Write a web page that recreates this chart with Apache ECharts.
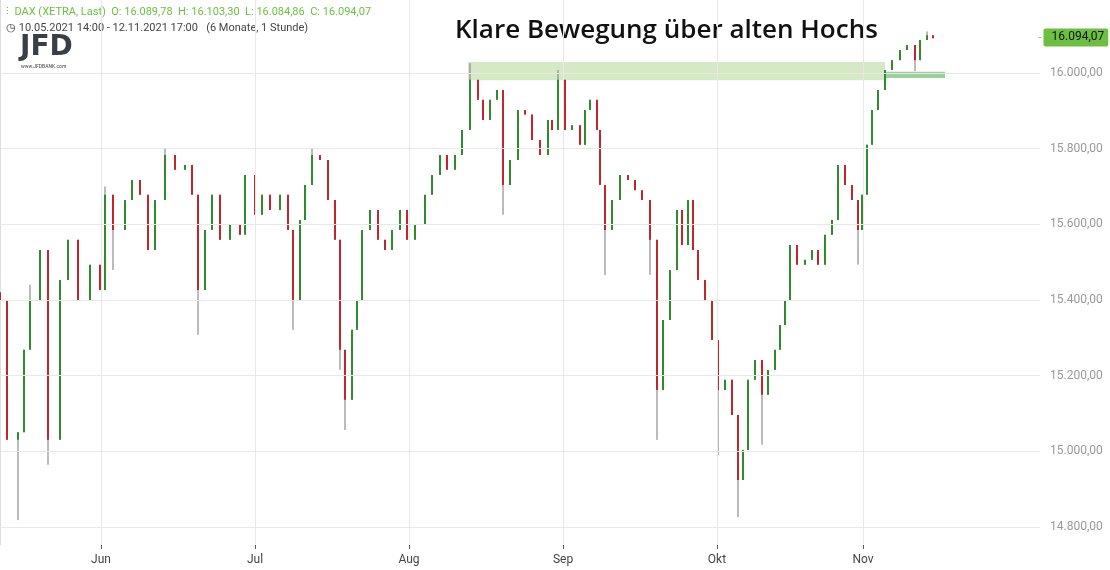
<!DOCTYPE html>
<html><head><meta charset="utf-8">
<script src="https://cdn.jsdelivr.net/npm/echarts@6/dist/echarts.min.js"></script>
<style>html,body{margin:0;padding:0;background:#fff}#c{width:1110px;height:570px}</style>
</head><body><div id="c"></div>
<script>
// time position (trading-hour scale) and closing prices
const timePos = [0,7,18,24,30,40,48,60,68,78,90,100,105,113,125,132,140,148,155,165,175,185,192,198,205,212,220,230,240,245,255,262,270,280,288,293,300,305,312,320,328,335,340,345,352,357,362,370,378,385,392,400,407,415,425,432,440,447,455,462,470,478,483,490,497,503,510,518,525,532,540,548,552,558,565,572,580,585,590,597,600,605,612,620,628,635,642,650,657,663,670,677,682,688,693,698,705,712,718,725,732,738,743,748,755,762,768,775,780,785,790,797,805,812,818,825,832,838,845,852,858,862,867,872,878,885,892,900,907,915,920,927,933];
const closes = [15400,15030,15050,15268,15400,15532,15030,15453,15559,15400,15493,15426,15678,15585,15664,15717,15678,15532,15664,15783,15744,15757,15678,15426,15585,15678,15559,15598,15572,15730,15625,15678,15638,15678,15585,15400,15611,15704,15783,15770,15664,15559,15268,15136,15321,15400,15585,15638,15559,15532,15585,15638,15559,15598,15678,15730,15783,15744,15783,15849,15982,15929,15876,15929,15955,15704,15770,15902,15890,15823,15783,15876,15849,15982,15849,15862,15810,15902,15929,15849,15704,15585,15664,15730,15717,15690,15664,15559,15162,15347,15479,15638,15545,15664,15532,15453,15400,15294,15162,15189,15096,14924,15003,15189,15241,15149,15215,15268,15334,15400,15545,15493,15506,15532,15493,15572,15611,15757,15704,15664,15585,15678,15810,15902,15955,16008,16034,16061,16074,16034,16087,16100,16092];
const firstOpen = 15420;
// wick extremes (index -> value)
const lowOverrides = {2:14818,6:14964,13:15479,23:15308,35:15321,42:15215,43:15056,65:15625,81:15466,87:15466,88:15030,98:14990,101:14826,105:15017,120:15493,129:16005};
const highOverrides = {4:15440,12:15700,19:15800,38:15800,60:16026,73:16008,131:16110};
const yTicks = [14800,15000,15200,15400,15600,15800,16000];
const monthPos = [101,255,409,563,717,863];
const monthNames = ['Jun','Jul','Aug','Sep','Okt','Nov'];
const zoneStart = 468, zoneEnd = 885, zoneLow = 15981, zoneHigh = 16029;
const supportStart = 885, supportEnd = 945, supportLow = 15987, supportHigh = 16003;
const lastPrice = 16094.07;

const fmt = v => v.toLocaleString('de-DE',{minimumFractionDigits:2,maximumFractionDigits:2});
const data = closes.map((c,i)=>{
  const o = i===0 ? firstOpen : closes[i-1];
  const lo = lowOverrides[i] !== undefined ? lowOverrides[i] : Math.min(o,c);
  const hi = highOverrides[i] !== undefined ? highOverrides[i] : Math.max(o,c);
  return [timePos[i], o, c, lo, hi];
});
const chart = echarts.init(document.getElementById('c'));
chart.setOption({
  animation:false,
  grid:{left:0,right:70,top:0,bottom:25},
  xAxis:{type:'value',min:0,max:1040,splitLine:{show:false},axisLine:{show:false},
    axisTick:{show:true,customValues:monthPos,length:4,inside:false,lineStyle:{color:'#555'}},
    axisLabel:{customValues:monthPos,formatter:v=>monthNames[monthPos.indexOf(v)]||'',color:'#444',fontSize:12,fontFamily:'Roboto',margin:9}},
  yAxis:{type:'value',position:'right',min:14752,max:16193,splitLine:{show:false},axisLine:{show:true,lineStyle:{color:'#ddd'}},
    axisTick:{show:true,customValues:yTicks,length:5,inside:false,lineStyle:{color:'#999'}},
    axisLabel:{customValues:yTicks,formatter:v=>fmt(v),color:'#999',fontSize:12,fontFamily:'Roboto',margin:10}},
  series:[
    {type:'line',data:[],silent:true,
     markLine:{silent:true,symbol:'none',label:{show:false},lineStyle:{color:'#e8e8e8',type:'solid',width:1},
       data:[...yTicks.map(v=>({yAxis:v})),...monthPos.map(v=>({xAxis:v}))]},
     markArea:{silent:true,itemStyle:{color:'rgba(150,200,110,0.4)'},
       data:[[{xAxis:zoneStart,yAxis:zoneLow},{xAxis:zoneEnd,yAxis:zoneHigh}],
             [{xAxis:supportStart,yAxis:supportLow,itemStyle:{color:'rgba(110,190,110,0.7)'}},{xAxis:supportEnd,yAxis:supportHigh}]]}},
    {type:'custom',data:data,encode:{x:0,y:[1,2,3,4]},
     renderItem:(params,api)=>{
       const x=api.value(0),o=api.value(1),c=api.value(2),l=api.value(3),h=api.value(4);
       const po=api.coord([x,o]),pc=api.coord([x,c]),pl=api.coord([x,l]),ph=api.coord([x,h]);
       const up=c>=o;
       const top=Math.min(po[1],pc[1]),bh=Math.max(1,Math.abs(po[1]-pc[1]));
       return {type:'group',children:[
         {type:'line',shape:{x1:pl[0],y1:pl[1],x2:ph[0],y2:ph[1]},style:{stroke:'#777',lineWidth:1}},
         {type:'rect',shape:{x:po[0]-1,y:top,width:2,height:bh},style:{fill:up?'#2e8b2e':'#c0262d'}}
       ]};
     }},
    {type:'line',data:[[1040,lastPrice]],symbol:'none',silent:true,
     markPoint:{symbol:'rect',symbolSize:1,data:[{coord:[1040,lastPrice]}],
       label:{show:true,position:'right',offset:[-2,0],formatter:fmt(lastPrice),color:'#111',fontSize:12,fontFamily:'Roboto',
         backgroundColor:'#6cbf3f',padding:[3,4,3,8],borderRadius:2}}}
  ],
  graphic:[
    {type:'text',left:455,top:18,style:{text:'Klare Bewegung über alten Hochs',font:'600 26px "Open Sans"',fill:'#111'}},
    {type:'text',left:6,top:7,style:{text:'⫶  DAX (XETRA, Last)  O: 16.089,78  H: 16.103,30  L: 16.084,86  C: 16.094,07',font:'11px Roboto',fill:'#6cbf3f'}},
    {type:'text',left:6,top:23,style:{text:'◷ 10.05.2021 14:00 - 12.11.2021 17:00   (6 Monate, 1 Stunde)',font:'11px Roboto',fill:'#444'}},
    {type:'text',left:20,top:34,style:{text:'JFD',font:'bold 28px "DejaVu Sans"',fill:'#3a3f47'}},
    {type:'text',left:21,top:64,style:{text:'www.JFDBANK.com',font:'5px Roboto',fill:'#3a3f47'}}
  ]
});
</script></body></html>
